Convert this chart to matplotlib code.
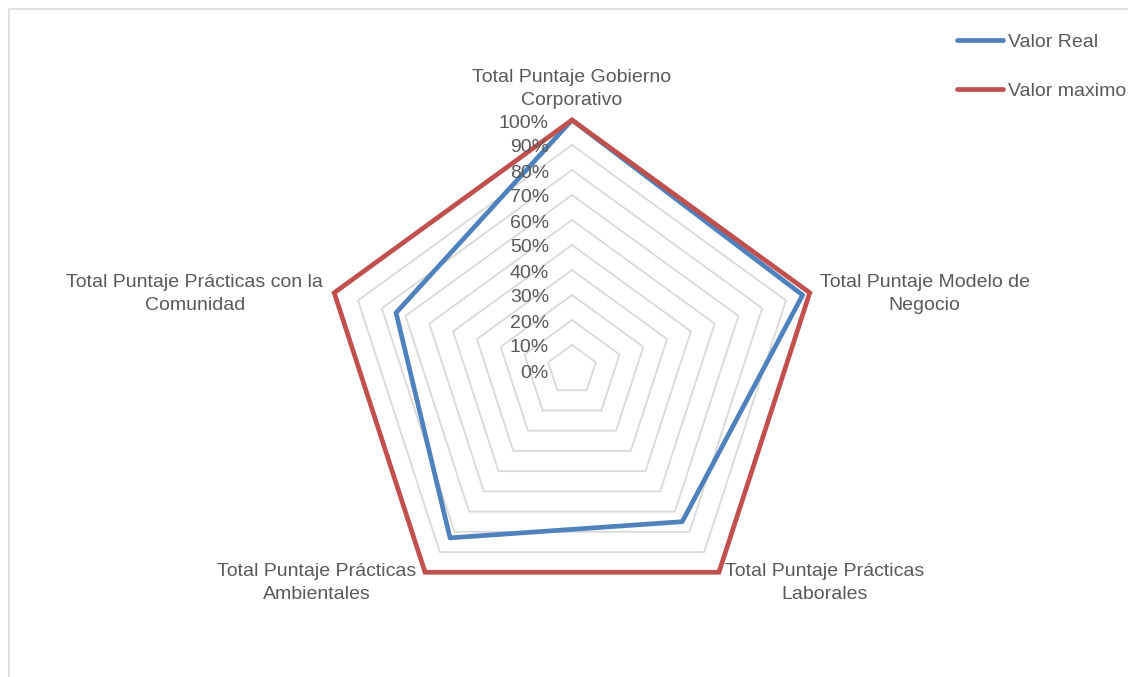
import numpy as np
import matplotlib
matplotlib.use("Agg")
import matplotlib.pyplot as plt
from matplotlib.patches import Rectangle

categories = ["Total Puntaje Gobierno\nCorporativo",
              "Total Puntaje Modelo de\nNegocio",
              "Total Puntaje Prácticas\nLaborales",
              "Total Puntaje Prácticas\nAmbientales",
              "Total Puntaje Prácticas con la\nComunidad"]
valor_real = [1.00, 0.97, 0.75, 0.83, 0.74]
valor_maximo = [1.00, 1.00, 1.00, 1.00, 1.00]
tick_values = [0.0, 0.1, 0.2, 0.3, 0.4, 0.5, 0.6, 0.7, 0.8, 0.9, 1.0]
tick_labels = ["0%", "10%", "20%", "30%", "40%", "50%", "60%", "70%", "80%", "90%", "100%"]
series_names = ["Valor Real", "Valor maximo"]

plt.rcParams['font.family'] = ['Liberation Sans', 'DejaVu Sans']
FS = 14
TXT = "#595959"
GRID = "#d9d9d9"
BLUE = "#4F81BD"
RED = "#C0504D"

W, H = 1128, 677
fig = plt.figure(figsize=(W / 100, H / 100), dpi=100)
ax = fig.add_axes([0, 0, 1, 1])
R = 250.0
cx, cy = 572.0, 370.0
ax.set_xlim(-cx / R, (W - cx) / R)
ax.set_ylim(-(H - cy) / R, cy / R)
ax.set_aspect('equal')
ax.axis('off')

n = len(categories)
theta = np.deg2rad(90 - 72 * np.arange(n))

def xy(vals):
    v = np.asarray(vals, dtype=float)
    x = v * np.cos(theta)
    y = v * np.sin(theta)
    return np.append(x, x[0]), np.append(y, y[0])

# grid pentagons
for t in tick_values[1:]:
    gx, gy = xy([t] * n)
    ax.plot(gx, gy, color=GRID, lw=1.3, zorder=1)

# series
bx, by = xy(valor_real)
l1, = ax.plot(bx, by, color=BLUE, lw=3.4, zorder=3, label=series_names[0],
              solid_joinstyle='round', solid_capstyle='round')
rx, ry = xy(valor_maximo)
l2, = ax.plot(rx, ry, color=RED, lw=3.4, zorder=4, label=series_names[1],
              solid_joinstyle='miter', solid_capstyle='round')

# tick labels
for t, lab in zip(tick_values, tick_labels):
    ax.annotate(lab, (0, t), xytext=(-23 * 0.72, -3 * 0.72), textcoords='offset points',
                ha='right', va='center', fontsize=FS, color=TXT, zorder=5)

# category labels
offsets = [(0, 31, 'center'), (10, -1.5, 'left'), (6, -11, 'left'),
           (-9, -11, 'right'), (-11, -1.5, 'right')]
for i, cat in enumerate(categories):
    dx, dy, ha = offsets[i]
    ax.annotate(cat, (np.cos(theta[i]), np.sin(theta[i])),
                xytext=(dx * 0.72, dy * 0.72), textcoords='offset points',
                ha=ha, va='center', multialignment='center', fontsize=FS,
                color=TXT, linespacing=1.45)

# legend
fs_px = FS / 72 * 100
leg = fig.legend(handles=[l1, l2], loc='upper left',
                 bbox_to_anchor=(957 / W, 1 - 33 / H), frameon=False,
                 fontsize=FS, handlelength=46 / fs_px, handletextpad=5 / fs_px,
                 labelspacing=1.63, borderpad=0, borderaxespad=0)
for t in leg.get_texts():
    t.set_color(TXT)

# chart area border (partially visible)
fig.patches.append(Rectangle((9 / W, -0.1), 1.2, (H - 9) / H + 0.1,
                             transform=fig.transFigure, fill=False,
                             edgecolor=GRID, lw=1.2))

fig.savefig("out.png", dpi=100)
